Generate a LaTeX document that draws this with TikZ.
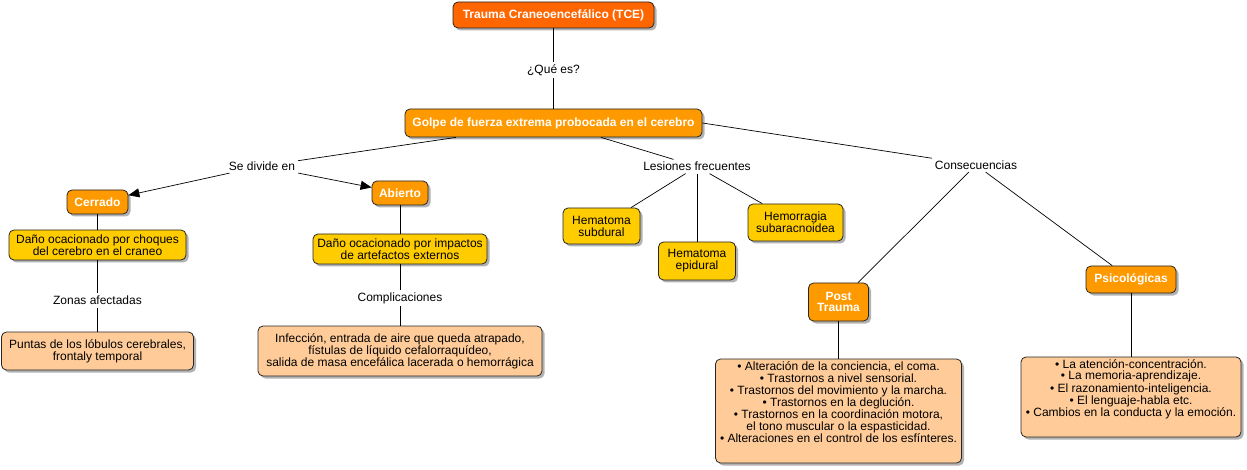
\documentclass[tikz,border=0pt]{standalone}
\usepackage{fontspec}
\setmainfont{Liberation Sans}
\usetikzlibrary{arrows.meta,shadows}
\definecolor{cTCE}{HTML}{FF6600}
\definecolor{cOrange}{HTML}{FF9900}
\definecolor{cYellow}{HTML}{FFCC00}
\definecolor{cLight}{HTML}{FFCC99}
\tikzset{
  box/.style={draw=black!85, line width=0.8pt, rounded corners=5pt, inner sep=0pt,
    align=center, font=\fontsize{12}{12}\selectfont,
    drop shadow={shadow xshift=2.5pt, shadow yshift=-2.5pt, opacity=0.3, fill=black}},
  hot/.style={box, fill=cOrange, text=white, font=\fontsize{12}{11.5}\selectfont\bfseries},
  warm/.style={box, fill=cYellow, text=black},
  soft/.style={box, fill=cLight, text=black},
  lbl/.style={inner xsep=3pt, inner ysep=2.5pt, font=\fontsize{12}{12}\selectfont},
  conn/.style={draw=black, line width=0.7pt},
  arr/.style={conn, -{Triangle[length=11pt,width=9pt]}},
}
\begin{document}
\begin{tikzpicture}[x=1pt,y=-1pt]
\fill[white] (0,0) rectangle (1247,470);
\useasboundingbox (0,0) rectangle (1247,470);

% boxes
\node[hot, fill=cTCE, minimum width=201pt, minimum height=26pt] (tce) at (553.5,15) {Trauma Craneoencefálico (TCE)};
\node[hot, minimum width=297pt, minimum height=28pt] (golpe) at (553.5,123) {Golpe de fuerza extrema probocada en el cerebro};
\node[hot, minimum width=61pt, minimum height=24pt] (cerrado) at (97.5,202) {Cerrado};
\node[hot, minimum width=56pt, minimum height=24pt] (abierto) at (400,193) {Abierto};
\node[warm, minimum width=177pt, minimum height=30pt] (dcerr) at (97.5,245) {Daño ocacionado por choques\\del cerebro en el craneo};
\node[soft, minimum width=192pt, minimum height=38pt] (puntas) at (97.5,351) {Puntas de los lóbulos cerebrales,\\frontaly temporal};
\node[warm, minimum width=174pt, minimum height=30pt] (dabi) at (400,249) {Daño ocacionado por impactos\\de artefactos externos};
\node[soft, minimum width=284pt, minimum height=50pt] (infec) at (400,351) {Infección, entrada de aire que queda atrapado,\\fístulas de líquido cefalorraquídeo,\\salida de masa encefálica lacerada o hemorrágica};
\node[warm, minimum width=77pt, minimum height=36pt] (subdural) at (601.5,226) {Hematoma\\subdural};
\node[warm, minimum width=77pt, minimum height=38pt] (epidural) at (697,261) {Hematoma\\epidural};
\node[warm, minimum width=95pt, minimum height=37pt] (hemorragia) at (795.5,222.5) {Hemorragia\\subaracnoidea};
\node[hot, minimum width=60pt, minimum height=38pt] (post) at (838.5,302) {Post\\Trauma};
\node[hot, minimum width=90pt, minimum height=27pt] (psic) at (1131,279.5) {Psicológicas};
\node[soft] (postlist) at (838.5,411) {\parbox[c][104pt][t]{246pt}{\vspace*{3pt}\centering\fontsize{12}{12}\selectfont
• Alteración de la conciencia, el coma.\\
• Trastornos a nivel sensorial.\\
• Trastornos del movimiento y la marcha.\\
• Trastornos en la deglución.\\
• Trastornos en la coordinación motora,\\
el tono muscular o la espasticidad.\\
• Alteraciones en el control de los esfínteres.}};
\node[soft] (psiclist) at (1131,397) {\parbox[c][80pt][t]{220pt}{\vspace*{3pt}\centering\fontsize{12}{11}\selectfont
• La atención-concentración.\\
• La memoria-aprendizaje.\\
• El razonamiento-inteligencia.\\
• El lenguaje-habla etc.\\
• Cambios en la conducta y la emoción.}};

% link labels
\node[lbl] (que) at (553.5,70) {¿Qué es?};
\node[lbl] (sediv) at (262,166) {Se divide en};
\node[lbl] (les) at (697,166.5) {Lesiones frecuentes};
\node[lbl] (cons) at (976,165) {Consecuencias};
\node[lbl] (zonas) at (97.5,300.5) {Zonas afectadas};
\node[lbl] (compl) at (400,298) {Complicaciones};

% connectors
\draw[conn] (tce) -- (que);
\draw[conn] (que) -- (golpe);
\draw[conn] (golpe) -- (sediv);
\draw[arr] (sediv) -- (cerrado);
\draw[arr] (sediv) -- (abierto);
\draw[conn] (golpe) -- (les);
\draw[conn] (golpe.east) -- (cons);
\draw[conn] (les) -- (subdural);
\draw[conn] (les) -- (epidural);
\draw[conn] (les) -- (hemorragia);
\draw[conn] (cons) -- (post);
\draw[conn] (cons) -- (psic);
\draw[conn] (cerrado) -- (dcerr);
\draw[conn] (dcerr) -- (zonas);
\draw[conn] (zonas) -- (puntas);
\draw[conn] (abierto) -- (dabi);
\draw[conn] (dabi) -- (compl);
\draw[conn] (compl) -- (infec);
\draw[conn] (post) -- (postlist);
\draw[conn] (psic) -- (psiclist);
\end{tikzpicture}
\end{document}
